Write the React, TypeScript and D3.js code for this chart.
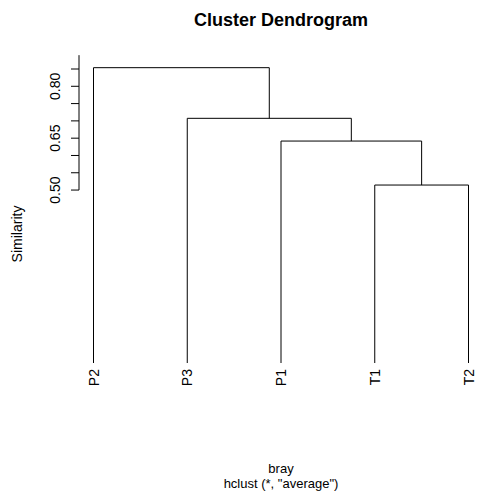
import React from "react";
import * as d3 from "d3";

const leaves = ["P2", "P3", "P1", "T1", "T2"];
// merges: [left, right, height]; negative = leaf index (1-based), positive = merge index (1-based)
const mergeLeft = [-4, -3, -2, -1];
const mergeRight = [-5, 1, 2, 3];
const mergeHeight = [0.5145, 0.6417, 0.7074, 0.8538];
const yTicks = [0.5, 0.55, 0.6, 0.65, 0.7, 0.75, 0.8, 0.85];
const yTickLabels = ["0.50", "", "", "0.65", "", "", "0.80", ""];
const axisTopValue = 0.89;
const title = "Cluster Dendrogram";
const yLabel = "Similarity";
const subLine1 = "bray";
const subLine2 = 'hclust (*, "average")';

const W = 478;
const H = 494;
const FONT = "'Liberation Sans', Arial, sans-serif";

export default function App() {
  const x = d3.scalePoint<string>().domain(leaves).range([93.5, 468.5]);
  const y = d3.scaleLinear().domain([0, 0.85]).range([363, 69]);

  const nodeX: number[] = [];
  const nodeY: number[] = [];
  const pos = (id: number): [number, number] => {
    if (id < 0) return [x(leaves[-id - 1]) as number, y(0)];
    return [nodeX[id - 1], nodeY[id - 1]];
  };
  const paths: string[] = [];
  mergeHeight.forEach((h, i) => {
    const [lx, ly] = pos(mergeLeft[i]);
    const [rx, ry] = pos(mergeRight[i]);
    const hy = y(h);
    nodeX.push((lx + rx) / 2);
    nodeY.push(hy);
    const p = d3.path();
    p.moveTo(lx, ly);
    p.lineTo(lx, hy);
    p.lineTo(rx, hy);
    p.lineTo(rx, ry);
    paths.push(p.toString());
  });

  const axisX = 79;
  const cx = 281;

  return (
    <svg width={W} height={H} style={{ position: "absolute", left: 0, top: 0, background: "#fff" }} fontFamily={FONT}>
      <rect width={W} height={H} fill="#fff" />
      <text x={cx} y={26} textAnchor="middle" fontWeight="bold" fontSize={18}>{title}</text>
      {paths.map((d, i) => (
        <path key={i} d={d} fill="none" stroke="#000" strokeWidth={1} />
      ))}
      <line x1={axisX} x2={axisX} y1={y(0.5)} y2={y(axisTopValue)} stroke="#000" />
      {yTicks.map((t, i) => (
        <g key={i}>
          <line x1={axisX} x2={axisX - 8} y1={y(t)} y2={y(t)} stroke="#000" />
          {yTickLabels[i] && (
            <text transform={`translate(60,${y(t)}) rotate(-90)`} textAnchor="middle" fontSize={14}>{yTickLabels[i]}</text>
          )}
        </g>
      ))}
      <text transform={`translate(22,234) rotate(-90)`} textAnchor="middle" fontSize={14}>{yLabel}</text>
      {leaves.map((l) => (
        <text key={l} transform={`translate(${(x(l) as number) + 5},369) rotate(-90)`} textAnchor="end" fontSize={14}>{l}</text>
      ))}
      <text x={cx} y={473} textAnchor="middle" fontSize={13}>{subLine1}</text>
      <text x={cx} y={488} textAnchor="middle" fontSize={13}>{subLine2}</text>
    </svg>
  );
}
